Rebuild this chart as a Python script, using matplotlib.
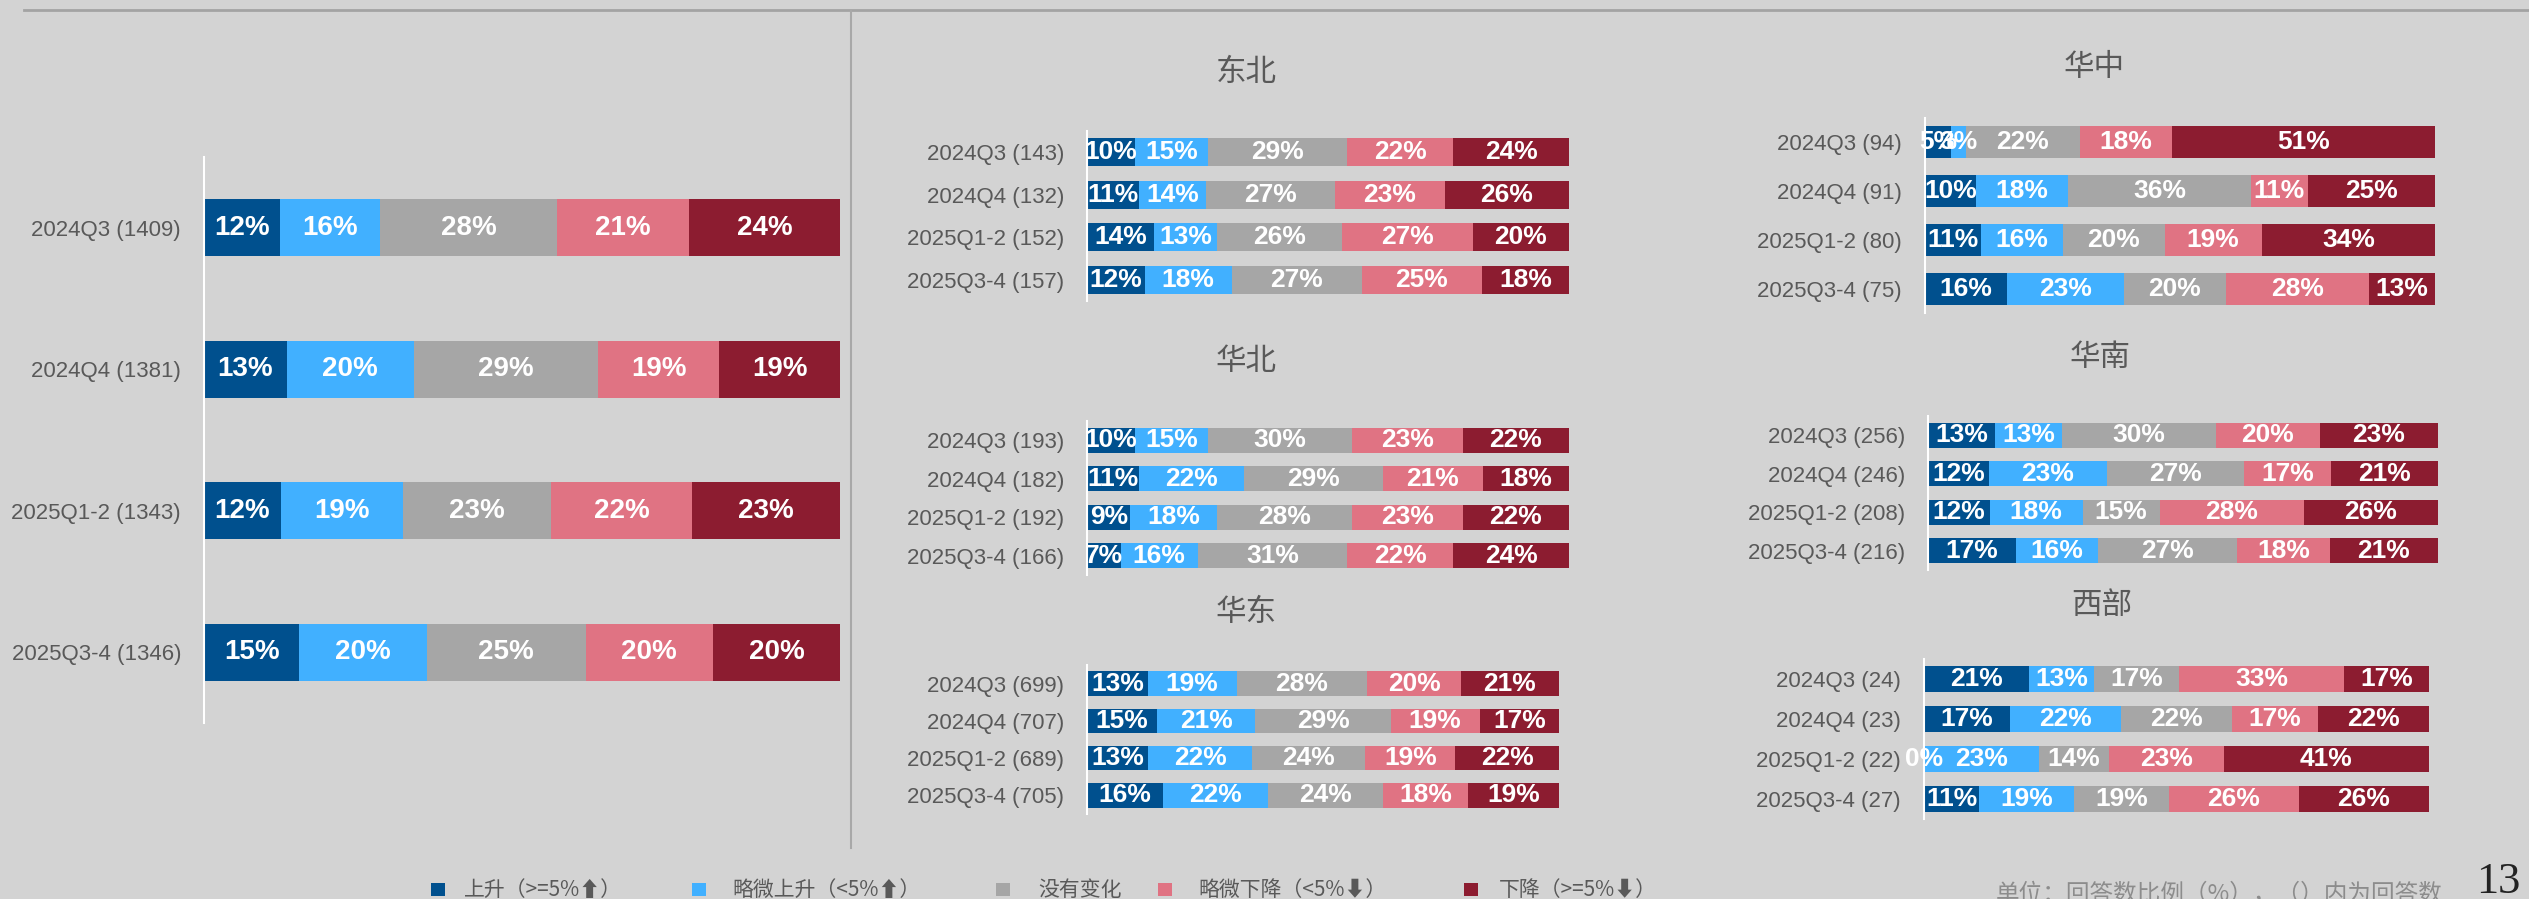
import matplotlib
matplotlib.use('Agg')
import matplotlib.pyplot as plt
from matplotlib.lines import Line2D
from matplotlib.patches import Rectangle

# ---- data ----
periods = ['2024Q3', '2024Q4', '2025Q1-2', '2025Q3-4']
categories = ['上升（>=5%⬆）', '略微上升（<5%⬆）', '没有变化', '略微下降（<5%⬇）', '下降（>=5%⬇）']

total_n = [1409, 1381, 1343, 1346]
total_vals = [[12, 16, 28, 21, 24], [13, 20, 29, 19, 19], [12, 19, 23, 22, 23], [15, 20, 25, 20, 20]]

dongbei_n = [143, 132, 152, 157]
dongbei_vals = [[10, 15, 29, 22, 24], [11, 14, 27, 23, 26], [14, 13, 26, 27, 20], [12, 18, 27, 25, 18]]

huabei_n = [193, 182, 192, 166]
huabei_vals = [[10, 15, 30, 23, 22], [11, 22, 29, 21, 18], [9, 18, 28, 23, 22], [7, 16, 31, 22, 24]]

huadong_n = [699, 707, 689, 705]
huadong_vals = [[13, 19, 28, 20, 21], [15, 21, 29, 19, 17], [13, 22, 24, 19, 22], [16, 22, 24, 18, 19]]

huazhong_n = [94, 91, 80, 75]
huazhong_vals = [[5, 3, 22, 18, 51], [10, 18, 36, 11, 25], [11, 16, 20, 19, 34], [16, 23, 20, 28, 13]]

huanan_n = [256, 246, 208, 216]
huanan_vals = [[13, 13, 30, 20, 23], [12, 23, 27, 17, 21], [12, 18, 15, 28, 26], [17, 16, 27, 18, 21]]

xibu_n = [24, 23, 22, 27]
xibu_vals = [[21, 13, 17, 33, 17], [17, 22, 22, 17, 22], [0, 23, 14, 23, 41], [11, 19, 19, 26, 26]]

colors = ['#00508E', '#41B0FF', '#A6A6A6', '#E07383', '#8C1C30']
BG = '#D3D3D3'
TXT = '#595959'
NARROW = ['Liberation Sans Narrow', 'Liberation Sans', 'DejaVu Sans']
CJK = ['Noto Sans CJK SC', 'DejaVu Sans']

W, H = 2529, 899
fig = plt.figure(figsize=(W / 100, H / 100), dpi=100)
fig.patch.set_facecolor(BG)


def px_axes(x0, y0, x1, y1):
    return fig.add_axes([x0 / W, 1 - y1 / H, (x1 - x0) / W, (y1 - y0) / H])


def panel(box, n, vals, bar_h, tick_fs, val_fs, title=None, title_xy=None):
    ax = px_axes(*box)
    ax.set_facecolor('none')
    ys = list(range(len(periods)))
    lefts = [0.0] * len(periods)
    for k in range(len(categories)):
        widths = [row[k] / sum(row) for row in vals]
        bc = ax.barh(ys, widths, left=lefts, height=bar_h, color=colors[k], linewidth=0)
        ax.bar_label(bc, labels=[f'{row[k]}%' for row in vals], label_type='center',
                     color='white', fontweight='bold', fontsize=val_fs, family=NARROW)
        lefts = [a + b for a, b in zip(lefts, widths)]
    ax.set_xlim(0, 1)
    ax.set_ylim(len(periods) - 0.5, -0.5)
    ax.set_yticks(ys)
    ax.set_yticklabels([f'{p} ({c})' for p, c in zip(periods, n)], family=NARROW,
                       fontsize=tick_fs, color=TXT)
    ax.tick_params(axis='y', length=0, pad=16.5)
    ax.set_xticks([])
    for s in ['top', 'right', 'bottom']:
        ax.spines[s].set_visible(False)
    ax.spines['left'].set_color('white')
    ax.spines['left'].set_linewidth(1.5)
    if title:
        fig.text(title_xy[0] / W, 1 - title_xy[1] / H, title, ha='center', va='center',
                 fontsize=22, color=TXT, family=CJK)
    return ax


panel((204, 157, 840, 723), total_n, total_vals, 0.40, 16, 20)
panel((1087, 131, 1569, 301), dongbei_n, dongbei_vals, 0.66, 16, 19, '东北', (1246, 72))
panel((1087, 421, 1569, 575), huabei_n, huabei_vals, 0.66, 16, 19, '华北', (1246, 362))
panel((1087, 665, 1559, 814), huadong_n, huadong_vals, 0.66, 16, 19, '华东', (1246, 612))
panel((1925, 118, 2435, 313), huazhong_n, huazhong_vals, 0.66, 16, 19, '华中', (2094, 68))
panel((1928, 416, 2438, 570), huanan_n, huanan_vals, 0.66, 16, 19, '华南', (2100, 357))
panel((1924, 659, 2429, 819), xibu_n, xibu_vals, 0.66, 16, 19, '西部', (2102, 606))

# frame lines
fig.add_artist(Line2D([24 / W, 1], [1 - 10 / H] * 2, color='#A3A3A3', lw=2))
fig.add_artist(Line2D([851 / W] * 2, [1 - 11 / H, 1 - 848 / H], color='#A8A8A8', lw=1.5))

# legend
sq_x = [431, 692, 996, 1158, 1464]
txt_x = [464, 732, 1038, 1198, 1499]
for k in range(len(categories)):
    fig.add_artist(Rectangle((sq_x[k] / W, 1 - 896 / H), 14 / W, 13 / H,
                             transform=fig.transFigure, color=colors[k], lw=0))
    fig.text(txt_x[k] / W, 1 - 890 / H, categories[k], ha='left', va='center',
             fontsize=15, color=TXT, family=CJK)

fig.text(1996 / W, 1 - 895 / H, '单位：回答数比例（%），（）内为回答数', ha='left', va='center',
         fontsize=17, color='#8C8C8C', family=CJK)
fig.text(2476 / W, 1 - 862 / H, '13', ha='left', va='top', fontsize=32, color='#222222',
         family=['Liberation Serif', 'DejaVu Serif'])

fig.savefig('out.png', dpi=100, facecolor=BG)
